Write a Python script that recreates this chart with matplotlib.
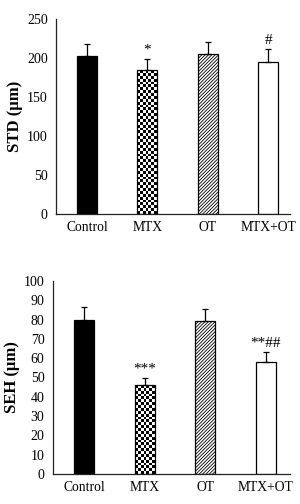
"""Two bar panels (STD and SEH) with upward error bars and significance marks."""

import numpy as np
import matplotlib

matplotlib.use("Agg")
import matplotlib.pyplot as plt

groups = ["Control", "MTX", "OT", "MTX+OT"]

std_means = [202, 184, 205, 195]
std_errs = [16, 15, 16, 16]
std_marks = ["", "*", "", "#"]

seh_means = [79.8, 46.1, 79.3, 58.2]
seh_errs = [6.5, 3.5, 6.0, 4.8]
seh_marks = ["", "***", "", "**##"]

plt.rcParams["font.family"] = ["Liberation Serif", "DejaVu Serif"]
plt.rcParams["hatch.linewidth"] = 0.6


def _checker_fill(ax, bar, ncols=7):
    # paint a black/white checkerboard inside the bar
    fig = ax.figure
    fig.canvas.draw()
    bb = bar.get_window_extent()
    sq = bb.width / ncols
    nrows = max(1, int(round(bb.height / sq)))
    board = (np.add.outer(np.arange(nrows), np.arange(ncols)) % 2).astype(float)
    x0, w, h = bar.get_x(), bar.get_width(), bar.get_height()
    im = ax.imshow(board, cmap="gray", extent=(x0, x0 + w, 0, h),
                   origin="lower", interpolation="nearest", aspect="auto",
                   zorder=bar.get_zorder() - 0.1)
    im.set_clip_path(bar)
    bar.set_facecolor("none")


def _panel(ax, means, errs, marks, ylabel, ymax, step, xlim):
    x = np.arange(len(groups))
    styles = [
        dict(color="black"),
        dict(color="white"),
        dict(color="white", hatch="//////////"),
        dict(color="white"),
    ]
    bars = []
    for xi, m, st in zip(x, means, styles):
        b = ax.bar(xi, m, width=0.33, edgecolor="black", linewidth=0.9,
                   zorder=2, **st)[0]
        bars.append(b)
    ax.errorbar(x, means, yerr=[np.zeros(len(errs)), errs], fmt="none",
                ecolor="black", elinewidth=0.9, capsize=2.2, capthick=0.9,
                zorder=3)
    for xi, m, e, t in zip(x, means, errs, marks):
        if t:
            ax.text(xi, m + e + ymax * 0.012, t, ha="center", va="bottom",
                    fontsize=11)
    ax.set_xlim(*xlim)
    ax.set_ylim(0, ymax)
    ax.set_yticks(np.arange(0, ymax + 1, step))
    ax.set_xticks(x)
    ax.set_xticklabels(groups, fontsize=9.8)
    ax.tick_params(axis="y", labelsize=10, length=0, pad=6)
    ax.tick_params(axis="x", length=0, pad=5)
    ax.set_ylabel(ylabel, fontsize=12, fontweight="bold", labelpad=3)
    for side in ("top", "right"):
        ax.spines[side].set_visible(False)
    for side in ("left", "bottom"):
        ax.spines[side].set_color("#222222")
        ax.spines[side].set_linewidth(0.9)
    _checker_fill(ax, bars[1])


fig = plt.figure(figsize=(3.0, 5.04), dpi=100)
ax1 = fig.add_axes([0.187, 0.5754, 0.78, 0.387])
ax2 = fig.add_axes([0.176, 0.0595, 0.791, 0.383])

_panel(ax1, std_means, std_errs, std_marks, "STD (µm)", 250, 50, (-0.51, 3.36))
_panel(ax2, seh_means, seh_errs, seh_marks, "SEH (µm)", 100, 10, (-0.52, 3.40))

fig.savefig("out.png", dpi=100)
